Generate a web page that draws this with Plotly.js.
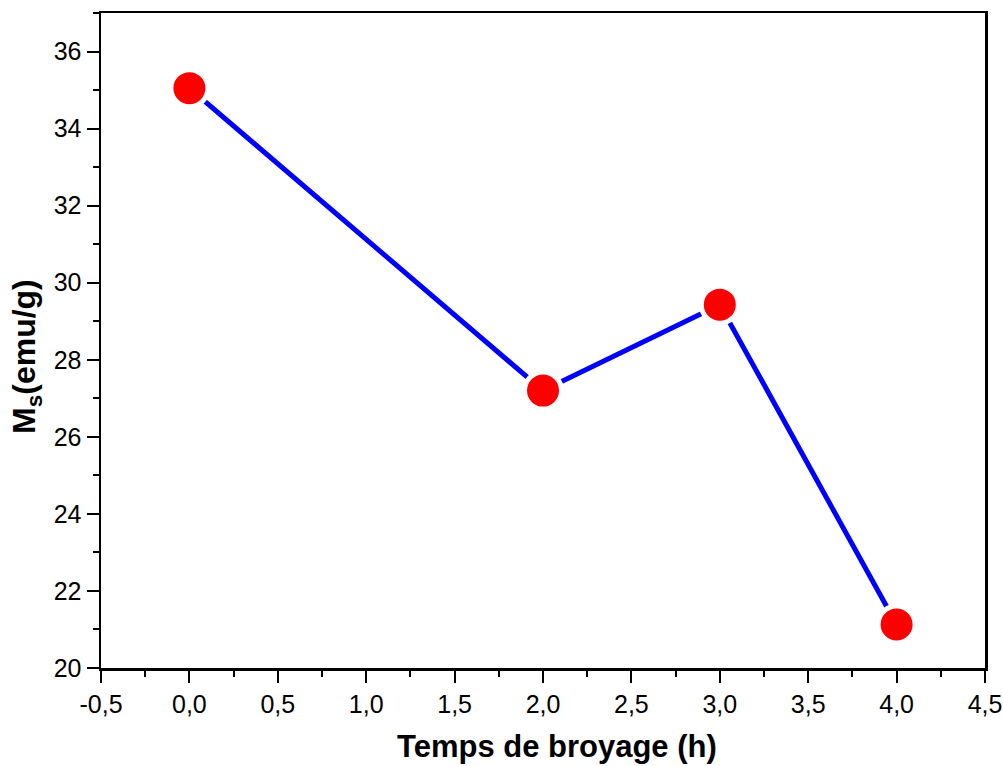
<!DOCTYPE html>
<html>
<head>
<meta charset="utf-8">
<script src="https://cdn.plot.ly/plotly-3.0.1.min.js"></script>
<style>html,body{margin:0;padding:0;background:#fff;}#chart{width:1003px;height:766px;}</style>
</head>
<body>
<div id="chart"></div>
<script>
const millingTime = [0, 2, 3, 4];
const msValues = [35.05, 27.2, 29.43, 21.13];
const xTickVals = [-0.5, 0, 0.5, 1, 1.5, 2, 2.5, 3, 3.5, 4, 4.5];
const xTickText = ['-0,5', '0,0', '0,5', '1,0', '1,5', '2,0', '2,5', '3,0', '3,5', '4,0', '4,5'];
const yTickVals = [20, 22, 24, 26, 28, 30, 32, 34, 36];
const yTickText = ['20', '22', '24', '26', '28', '30', '32', '34', '36'];
const xTitle = 'Temps de broyage (h)';
const yTitle = '<b>M<sub>s</sub>(emu/g)</b>';

const trace = {
  x: millingTime,
  y: msValues,
  type: 'scatter',
  mode: 'lines+markers',
  line: {color: '#0000FF', width: 5},
  marker: {color: '#FF0000', size: 37, line: {color: '#FFFFFF', width: 5}},
  cliponaxis: false,
  showlegend: false
};

const FAM = 'Liberation Sans, Arial, sans-serif';
const axisFont = {family: FAM, size: 25, color: '#000'};
const layout = {
  width: 1003,
  height: 766,
  margin: {l: 101, r: 18, t: 13, b: 98},
  paper_bgcolor: '#fff',
  plot_bgcolor: '#fff',
  xaxis: {
    range: [-0.5, 4.5],
    tickvals: xTickVals,
    ticktext: xTickText,
    ticks: 'outside',
    ticklen: 12,
    tickwidth: 2,
    tickcolor: '#000',
    showline: true,
    linecolor: '#000',
    linewidth: 2.5,
    mirror: true,
    showgrid: false,
    zeroline: false,
    tickfont: axisFont,
    minor: {dtick: 0.25, tick0: 0, ticks: 'outside', ticklen: 6, tickwidth: 2, tickcolor: '#000', showgrid: false}
  },
  yaxis: {
    range: [20, 37],
    tickvals: yTickVals,
    ticktext: yTickText,
    ticks: 'outside',
    ticklen: 12,
    tickwidth: 2,
    tickcolor: '#000',
    showline: true,
    linecolor: '#000',
    linewidth: 2.5,
    mirror: true,
    showgrid: false,
    zeroline: false,
    tickfont: axisFont,
    minor: {dtick: 1, tick0: 20, ticks: 'outside', ticklen: 6, tickwidth: 2, tickcolor: '#000', showgrid: false}
  },
  annotations: [
    {text: xTitle, xref: 'paper', yref: 'paper', x: 0.516, y: -0.1206, xanchor: 'center', yanchor: 'middle',
     showarrow: false, font: {family: FAM, size: 31, color: '#000', weight: 'bold'}},
    {text: yTitle, xref: 'paper', yref: 'paper', x: -0.0837, y: 0.475, xanchor: 'center', yanchor: 'middle',
     textangle: -90, showarrow: false, font: {family: FAM, size: 32, color: '#000', weight: 'bold'}}
  ]
};

Plotly.newPlot('chart', [trace], layout, {displayModeBar: false, staticPlot: true});
</script>
</body>
</html>
